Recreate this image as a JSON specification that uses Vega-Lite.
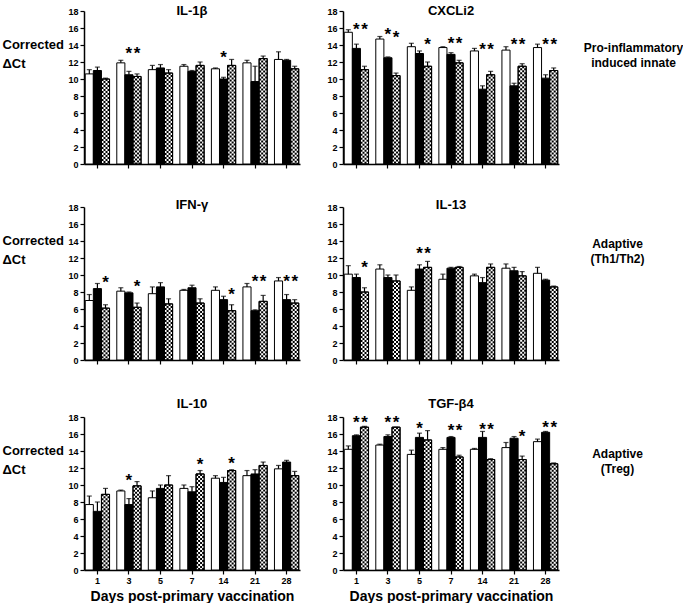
{
"$schema":"https://vega.github.io/schema/vega-lite/v6.json",
"padding":{"left":2,"top":5,"right":0,"bottom":0},
"background":"white",
"config":{"font":"Liberation Sans","view":{"stroke":null},
 "axis":{"grid":false,"domainColor":"black","domainWidth":1.5,"tickColor":"black","tickWidth":1.2,"tickSize":4,"labelColor":"black","labelFontWeight":"bold","labelFontSize":9,"labelPadding":2,"titleColor":"black"},
 "title":{"fontSize":13,"fontWeight":"bold","color":"black","baseline":"alphabetic"}},
"datasets":{
"bars":[
{"p":"IL-1β","d":1,"g":"g1","v":10.6,"h":11.1},{"p":"IL-1β","d":1,"g":"g2","v":11.0,"h":11.4},{"p":"IL-1β","d":1,"g":"g3","v":10.0,"h":10.1},
{"p":"IL-1β","d":3,"g":"g1","v":11.9,"h":12.2},{"p":"IL-1β","d":3,"g":"g2","v":10.5,"h":10.9},{"p":"IL-1β","d":3,"g":"g3","v":10.3,"h":10.6},
{"p":"IL-1β","d":5,"g":"g1","v":11.1,"h":11.6},{"p":"IL-1β","d":5,"g":"g2","v":11.3,"h":11.7},{"p":"IL-1β","d":5,"g":"g3","v":10.7,"h":11.1},
{"p":"IL-1β","d":7,"g":"g1","v":11.5,"h":11.7},{"p":"IL-1β","d":7,"g":"g2","v":10.9,"h":11.0},{"p":"IL-1β","d":7,"g":"g3","v":11.6,"h":12.0},
{"p":"IL-1β","d":14,"g":"g1","v":11.2,"h":11.3},{"p":"IL-1β","d":14,"g":"g2","v":10.0,"h":10.2},{"p":"IL-1β","d":14,"g":"g3","v":11.6,"h":12.3},
{"p":"IL-1β","d":21,"g":"g1","v":11.9,"h":12.2},{"p":"IL-1β","d":21,"g":"g2","v":9.7,"h":11.5},{"p":"IL-1β","d":21,"g":"g3","v":12.4,"h":12.7},
{"p":"IL-1β","d":28,"g":"g1","v":12.3,"h":13.2},{"p":"IL-1β","d":28,"g":"g2","v":12.2,"h":12.3},{"p":"IL-1β","d":28,"g":"g3","v":11.2,"h":11.5},
{"p":"CXCLi2","d":1,"g":"g1","v":15.5,"h":15.8},{"p":"CXCLi2","d":1,"g":"g2","v":13.6,"h":14.1},{"p":"CXCLi2","d":1,"g":"g3","v":11.1,"h":11.5},
{"p":"CXCLi2","d":3,"g":"g1","v":14.7,"h":15.0},{"p":"CXCLi2","d":3,"g":"g2","v":12.5,"h":12.6},{"p":"CXCLi2","d":3,"g":"g3","v":10.4,"h":10.7},
{"p":"CXCLi2","d":5,"g":"g1","v":13.8,"h":14.2},{"p":"CXCLi2","d":5,"g":"g2","v":13.0,"h":13.3},{"p":"CXCLi2","d":5,"g":"g3","v":11.5,"h":12.0},
{"p":"CXCLi2","d":7,"g":"g1","v":13.7,"h":13.8},{"p":"CXCLi2","d":7,"g":"g2","v":12.9,"h":13.1},{"p":"CXCLi2","d":7,"g":"g3","v":11.9,"h":12.2},
{"p":"CXCLi2","d":14,"g":"g1","v":13.3,"h":13.6},{"p":"CXCLi2","d":14,"g":"g2","v":8.8,"h":9.2},{"p":"CXCLi2","d":14,"g":"g3","v":10.5,"h":10.9},
{"p":"CXCLi2","d":21,"g":"g1","v":13.4,"h":13.8},{"p":"CXCLi2","d":21,"g":"g2","v":9.2,"h":9.5},{"p":"CXCLi2","d":21,"g":"g3","v":11.5,"h":11.8},
{"p":"CXCLi2","d":28,"g":"g1","v":13.7,"h":14.1},{"p":"CXCLi2","d":28,"g":"g2","v":10.1,"h":10.5},{"p":"CXCLi2","d":28,"g":"g3","v":11.0,"h":11.3},
{"p":"IFN-γ","d":1,"g":"g1","v":7.0,"h":7.7},{"p":"IFN-γ","d":1,"g":"g2","v":8.4,"h":9.0},{"p":"IFN-γ","d":1,"g":"g3","v":6.1,"h":6.5},
{"p":"IFN-γ","d":3,"g":"g1","v":8.1,"h":8.5},{"p":"IFN-γ","d":3,"g":"g2","v":7.9,"h":8.0},{"p":"IFN-γ","d":3,"g":"g3","v":6.2,"h":6.7},
{"p":"IFN-γ","d":5,"g":"g1","v":7.8,"h":8.6},{"p":"IFN-γ","d":5,"g":"g2","v":8.6,"h":9.1},{"p":"IFN-γ","d":5,"g":"g3","v":6.6,"h":7.2},
{"p":"IFN-γ","d":7,"g":"g1","v":8.2,"h":8.3},{"p":"IFN-γ","d":7,"g":"g2","v":8.5,"h":8.8},{"p":"IFN-γ","d":7,"g":"g3","v":6.7,"h":7.2},
{"p":"IFN-γ","d":14,"g":"g1","v":8.2,"h":8.6},{"p":"IFN-γ","d":14,"g":"g2","v":7.1,"h":7.5},{"p":"IFN-γ","d":14,"g":"g3","v":5.8,"h":6.5},
{"p":"IFN-γ","d":21,"g":"g1","v":8.6,"h":9.0},{"p":"IFN-γ","d":21,"g":"g2","v":5.8,"h":5.9},{"p":"IFN-γ","d":21,"g":"g3","v":6.9,"h":7.6},
{"p":"IFN-γ","d":28,"g":"g1","v":9.3,"h":9.7},{"p":"IFN-γ","d":28,"g":"g2","v":7.1,"h":7.7},{"p":"IFN-γ","d":28,"g":"g3","v":6.7,"h":7.1},
{"p":"IL-13","d":1,"g":"g1","v":10.1,"h":11.1},{"p":"IL-13","d":1,"g":"g2","v":9.7,"h":10.1},{"p":"IL-13","d":1,"g":"g3","v":8.0,"h":8.5},
{"p":"IL-13","d":3,"g":"g1","v":10.7,"h":11.2},{"p":"IL-13","d":3,"g":"g2","v":9.7,"h":10.0},{"p":"IL-13","d":3,"g":"g3","v":9.3,"h":10.0},
{"p":"IL-13","d":5,"g":"g1","v":8.2,"h":8.6},{"p":"IL-13","d":5,"g":"g2","v":10.7,"h":11.2},{"p":"IL-13","d":5,"g":"g3","v":10.9,"h":11.6},
{"p":"IL-13","d":7,"g":"g1","v":9.5,"h":10.1},{"p":"IL-13","d":7,"g":"g2","v":10.8,"h":10.9},{"p":"IL-13","d":7,"g":"g3","v":10.9,"h":11.0},
{"p":"IL-13","d":14,"g":"g1","v":9.9,"h":10.1},{"p":"IL-13","d":14,"g":"g2","v":9.1,"h":9.7},{"p":"IL-13","d":14,"g":"g3","v":10.9,"h":11.3},
{"p":"IL-13","d":21,"g":"g1","v":10.8,"h":11.3},{"p":"IL-13","d":21,"g":"g2","v":10.5,"h":10.9},{"p":"IL-13","d":21,"g":"g3","v":9.9,"h":10.4},
{"p":"IL-13","d":28,"g":"g1","v":10.2,"h":10.9},{"p":"IL-13","d":28,"g":"g2","v":9.4,"h":9.5},{"p":"IL-13","d":28,"g":"g3","v":8.6,"h":8.7},
{"p":"IL-10","d":1,"g":"g1","v":7.7,"h":8.7},{"p":"IL-10","d":1,"g":"g2","v":6.9,"h":8.0},{"p":"IL-10","d":1,"g":"g3","v":8.9,"h":9.6},
{"p":"IL-10","d":3,"g":"g1","v":9.3,"h":9.4},{"p":"IL-10","d":3,"g":"g2","v":7.7,"h":8.4},{"p":"IL-10","d":3,"g":"g3","v":9.9,"h":10.4},
{"p":"IL-10","d":5,"g":"g1","v":8.5,"h":9.3},{"p":"IL-10","d":5,"g":"g2","v":9.6,"h":10.0},{"p":"IL-10","d":5,"g":"g3","v":10.0,"h":11.1},
{"p":"IL-10","d":7,"g":"g1","v":9.6,"h":10.0},{"p":"IL-10","d":7,"g":"g2","v":9.2,"h":9.8},{"p":"IL-10","d":7,"g":"g3","v":11.3,"h":11.7},
{"p":"IL-10","d":14,"g":"g1","v":10.8,"h":11.1},{"p":"IL-10","d":14,"g":"g2","v":10.3,"h":10.9},{"p":"IL-10","d":14,"g":"g3","v":11.7,"h":11.8},
{"p":"IL-10","d":21,"g":"g1","v":11.1,"h":11.7},{"p":"IL-10","d":21,"g":"g2","v":11.3,"h":11.8},{"p":"IL-10","d":21,"g":"g3","v":12.3,"h":12.7},
{"p":"IL-10","d":28,"g":"g1","v":11.9,"h":12.3},{"p":"IL-10","d":28,"g":"g2","v":12.7,"h":12.9},{"p":"IL-10","d":28,"g":"g3","v":11.1,"h":11.6},
{"p":"TGF-β4","d":1,"g":"g1","v":14.2,"h":14.6},{"p":"TGF-β4","d":1,"g":"g2","v":15.8,"h":15.9},{"p":"TGF-β4","d":1,"g":"g3","v":16.8,"h":16.9},
{"p":"TGF-β4","d":3,"g":"g1","v":14.7,"h":14.8},{"p":"TGF-β4","d":3,"g":"g2","v":15.7,"h":15.9},{"p":"TGF-β4","d":3,"g":"g3","v":16.8,"h":16.8},
{"p":"TGF-β4","d":5,"g":"g1","v":13.6,"h":14.1},{"p":"TGF-β4","d":5,"g":"g2","v":15.6,"h":16.1},{"p":"TGF-β4","d":5,"g":"g3","v":15.3,"h":16.4},
{"p":"TGF-β4","d":7,"g":"g1","v":14.2,"h":14.4},{"p":"TGF-β4","d":7,"g":"g2","v":15.6,"h":15.7},{"p":"TGF-β4","d":7,"g":"g3","v":13.3,"h":13.5},
{"p":"TGF-β4","d":14,"g":"g1","v":14.2,"h":14.3},{"p":"TGF-β4","d":14,"g":"g2","v":15.6,"h":16.3},{"p":"TGF-β4","d":14,"g":"g3","v":13.0,"h":13.1},
{"p":"TGF-β4","d":21,"g":"g1","v":14.4,"h":15.0},{"p":"TGF-β4","d":21,"g":"g2","v":15.5,"h":15.7},{"p":"TGF-β4","d":21,"g":"g3","v":13.0,"h":13.4},
{"p":"TGF-β4","d":28,"g":"g1","v":15.1,"h":15.4},{"p":"TGF-β4","d":28,"g":"g2","v":16.2,"h":16.3},{"p":"TGF-β4","d":28,"g":"g3","v":12.5,"h":12.6}
],
"stars":[
{"p":"IL-1β","d":3,"g":"g2","y":13.4},{"p":"IL-1β","d":3,"g":"g3","y":13.4},{"p":"IL-1β","d":14,"g":"g2","y":12.9},
{"p":"CXCLi2","d":1,"g":"g2","y":16.2},{"p":"CXCLi2","d":1,"g":"g3","y":16.2},{"p":"CXCLi2","d":3,"g":"g2","y":15.6},{"p":"CXCLi2","d":3,"g":"g3","y":15.3},
{"p":"CXCLi2","d":5,"g":"g3","y":14.5},{"p":"CXCLi2","d":7,"g":"g2","y":14.6},{"p":"CXCLi2","d":7,"g":"g3","y":14.6},
{"p":"CXCLi2","d":14,"g":"g2","y":13.9},{"p":"CXCLi2","d":14,"g":"g3","y":13.9},{"p":"CXCLi2","d":21,"g":"g2","y":14.5},{"p":"CXCLi2","d":21,"g":"g3","y":14.5},
{"p":"CXCLi2","d":28,"g":"g2","y":14.5},{"p":"CXCLi2","d":28,"g":"g3","y":14.5},
{"p":"IFN-γ","d":1,"g":"g3","y":9.5},{"p":"IFN-γ","d":3,"g":"g3","y":9.1},{"p":"IFN-γ","d":14,"g":"g3","y":8.1},
{"p":"IFN-γ","d":21,"g":"g2","y":9.6},{"p":"IFN-γ","d":21,"g":"g3","y":9.6},{"p":"IFN-γ","d":28,"g":"g2","y":9.7},{"p":"IFN-γ","d":28,"g":"g3","y":9.7},
{"p":"IL-13","d":1,"g":"g3","y":11.3},{"p":"IL-13","d":5,"g":"g2","y":12.9},{"p":"IL-13","d":5,"g":"g3","y":12.9},
{"p":"IL-10","d":3,"g":"g2","y":11.0},{"p":"IL-10","d":7,"g":"g3","y":12.8},{"p":"IL-10","d":14,"g":"g3","y":13.0},
{"p":"TGF-β4","d":1,"g":"g2","y":17.8},{"p":"TGF-β4","d":1,"g":"g3","y":17.8},{"p":"TGF-β4","d":3,"g":"g2","y":17.8},{"p":"TGF-β4","d":3,"g":"g3","y":17.8},
{"p":"TGF-β4","d":5,"g":"g2","y":17.1},{"p":"TGF-β4","d":7,"g":"g2","y":16.8},{"p":"TGF-β4","d":7,"g":"g3","y":16.8},
{"p":"TGF-β4","d":14,"g":"g2","y":17.0},{"p":"TGF-β4","d":14,"g":"g3","y":17.0},{"p":"TGF-β4","d":21,"g":"g3","y":16.1},
{"p":"TGF-β4","d":28,"g":"g2","y":17.2},{"p":"TGF-β4","d":28,"g":"g3","y":17.2}
]},
"vconcat":[
{"hconcat":[
 {"width":216,"height":153,"title":{"text":"IL-1β","offset":-11},"resolve":{"axis":{"x":"independent","y":"independent"}},
  "layer":[
   {"data":{"name":"bars"},"transform":[{"filter":{"field":"p","equal":"IL-1β"}}],"mark":{"type":"bar","stroke":"black","strokeWidth":1},
    "encoding":{"x":{"field":"d","type":"ordinal","scale":{"paddingInner":0.23,"paddingOuter":0.04},"axis":{"labels":false,"title":null}},
     "xOffset":{"field":"g","type":"nominal","scale":{"domain":["g1","g2","g3"],"paddingInner":0,"paddingOuter":0}},
     "y":{"field":"v","type":"quantitative","scale":{"domain":[0,18],"nice":false},"axis":{"values":[0,2,4,6,8,10,12,14,16,18],"title":["Corrected","ΔCt"],"titleAngle":0,"titleAlign":"left","titleBaseline":"top","titleX":-82,"titleY":27,"titleFontSize":13,"titleFontWeight":"bold","titleLineHeight":19}},
     "fill":{"field":"g","type":"nominal","scale":{"domain":["g1","g2","g3"],"range":["#ffffff","#000000","#ffffff"]},"legend":null}}},
   {"data":{"name":"bars"},"transform":[{"filter":{"and":[{"field":"p","equal":"IL-1β"},{"field":"g","equal":"g3"}]}}],"mark":{"type":"rule","color":"black","strokeWidth":2,"strokeDash":[2,2],"strokeDashOffset":0,"xOffset":5.1},
    "encoding":{"x":{"field":"d","type":"ordinal","axis":null},"y":{"field":"v","type":"quantitative","axis":null},"y2":{"datum":0}}},
   {"data":{"name":"bars"},"transform":[{"filter":{"and":[{"field":"p","equal":"IL-1β"},{"field":"g","equal":"g3"}]}}],"mark":{"type":"rule","color":"black","strokeWidth":2,"strokeDash":[2,2],"strokeDashOffset":2,"xOffset":7.1},
    "encoding":{"x":{"field":"d","type":"ordinal","axis":null},"y":{"field":"v","type":"quantitative","axis":null},"y2":{"datum":0}}},
   {"data":{"name":"bars"},"transform":[{"filter":{"and":[{"field":"p","equal":"IL-1β"},{"field":"g","equal":"g3"}]}}],"mark":{"type":"rule","color":"black","strokeWidth":2,"strokeDash":[2,2],"strokeDashOffset":0,"xOffset":9.1},
    "encoding":{"x":{"field":"d","type":"ordinal","axis":null},"y":{"field":"v","type":"quantitative","axis":null},"y2":{"datum":0}}},
   {"data":{"name":"bars"},"transform":[{"filter":{"and":[{"field":"p","equal":"IL-1β"},{"field":"g","equal":"g3"}]}}],"mark":{"type":"rule","color":"black","strokeWidth":2,"strokeDash":[2,2],"strokeDashOffset":2,"xOffset":11.1},
    "encoding":{"x":{"field":"d","type":"ordinal","axis":null},"y":{"field":"v","type":"quantitative","axis":null},"y2":{"datum":0}}},
   {"data":{"name":"bars"},"transform":[{"filter":{"and":[{"field":"p","equal":"IL-1β"},{"field":"g","equal":"g3"}]}}],"mark":{"type":"bar","fillOpacity":0,"stroke":"black","strokeWidth":1},
    "encoding":{"x":{"field":"d","type":"ordinal","axis":null},"xOffset":{"field":"g","type":"nominal"},"y":{"field":"v","type":"quantitative","axis":null}}},
   {"data":{"name":"bars"},"transform":[{"filter":{"field":"p","equal":"IL-1β"}}],"mark":{"type":"rule","color":"black","strokeWidth":1.2},
    "encoding":{"x":{"field":"d","type":"ordinal","axis":null},"xOffset":{"field":"g","type":"nominal"},"y":{"field":"v","type":"quantitative","axis":null},"y2":{"field":"h"}}},
   {"data":{"name":"bars"},"transform":[{"filter":{"field":"p","equal":"IL-1β"}}],"mark":{"type":"tick","color":"black","size":5,"thickness":1.2,"orient":"horizontal"},
    "encoding":{"x":{"field":"d","type":"ordinal","axis":null},"xOffset":{"field":"g","type":"nominal"},"y":{"field":"h","type":"quantitative","axis":null}}},
   {"data":{"name":"stars"},"transform":[{"filter":{"field":"p","equal":"IL-1β"}}],"mark":{"type":"text","text":"*","fontSize":17,"fontWeight":"bold","baseline":"alphabetic","dy":9,"color":"black"},
    "encoding":{"x":{"field":"d","type":"ordinal","axis":null},"xOffset":{"field":"g","type":"nominal"},"y":{"field":"y","type":"quantitative","axis":null}}}
  ]},
 {"width":216,"height":153,"title":{"text":"CXCLi2","offset":-11},"resolve":{"axis":{"x":"independent","y":"independent"}},
  "layer":[
   {"data":{"name":"bars"},"transform":[{"filter":{"field":"p","equal":"CXCLi2"}}],"mark":{"type":"bar","stroke":"black","strokeWidth":1},
    "encoding":{"x":{"field":"d","type":"ordinal","scale":{"paddingInner":0.23,"paddingOuter":0.04},"axis":{"labels":false,"title":null}},
     "xOffset":{"field":"g","type":"nominal","scale":{"domain":["g1","g2","g3"],"paddingInner":0,"paddingOuter":0}},
     "y":{"field":"v","type":"quantitative","scale":{"domain":[0,18],"nice":false},"axis":{"values":[0,2,4,6,8,10,12,14,16,18],"title":null}},
     "fill":{"field":"g","type":"nominal","scale":{"domain":["g1","g2","g3"],"range":["#ffffff","#000000","#ffffff"]},"legend":null}}},
   {"data":{"name":"bars"},"transform":[{"filter":{"and":[{"field":"p","equal":"CXCLi2"},{"field":"g","equal":"g3"}]}}],"mark":{"type":"rule","color":"black","strokeWidth":2,"strokeDash":[2,2],"strokeDashOffset":0,"xOffset":5.1},
    "encoding":{"x":{"field":"d","type":"ordinal","axis":null},"y":{"field":"v","type":"quantitative","axis":null},"y2":{"datum":0}}},
   {"data":{"name":"bars"},"transform":[{"filter":{"and":[{"field":"p","equal":"CXCLi2"},{"field":"g","equal":"g3"}]}}],"mark":{"type":"rule","color":"black","strokeWidth":2,"strokeDash":[2,2],"strokeDashOffset":2,"xOffset":7.1},
    "encoding":{"x":{"field":"d","type":"ordinal","axis":null},"y":{"field":"v","type":"quantitative","axis":null},"y2":{"datum":0}}},
   {"data":{"name":"bars"},"transform":[{"filter":{"and":[{"field":"p","equal":"CXCLi2"},{"field":"g","equal":"g3"}]}}],"mark":{"type":"rule","color":"black","strokeWidth":2,"strokeDash":[2,2],"strokeDashOffset":0,"xOffset":9.1},
    "encoding":{"x":{"field":"d","type":"ordinal","axis":null},"y":{"field":"v","type":"quantitative","axis":null},"y2":{"datum":0}}},
   {"data":{"name":"bars"},"transform":[{"filter":{"and":[{"field":"p","equal":"CXCLi2"},{"field":"g","equal":"g3"}]}}],"mark":{"type":"rule","color":"black","strokeWidth":2,"strokeDash":[2,2],"strokeDashOffset":2,"xOffset":11.1},
    "encoding":{"x":{"field":"d","type":"ordinal","axis":null},"y":{"field":"v","type":"quantitative","axis":null},"y2":{"datum":0}}},
   {"data":{"name":"bars"},"transform":[{"filter":{"and":[{"field":"p","equal":"CXCLi2"},{"field":"g","equal":"g3"}]}}],"mark":{"type":"bar","fillOpacity":0,"stroke":"black","strokeWidth":1},
    "encoding":{"x":{"field":"d","type":"ordinal","axis":null},"xOffset":{"field":"g","type":"nominal"},"y":{"field":"v","type":"quantitative","axis":null}}},
   {"data":{"name":"bars"},"transform":[{"filter":{"field":"p","equal":"CXCLi2"}}],"mark":{"type":"rule","color":"black","strokeWidth":1.2},
    "encoding":{"x":{"field":"d","type":"ordinal","axis":null},"xOffset":{"field":"g","type":"nominal"},"y":{"field":"v","type":"quantitative","axis":{"orient":"right","labels":false,"ticks":false,"domain":false,"title":["Pro-inflammatory","induced innate"],"titleAngle":0,"titleAlign":"center","titleBaseline":"top","titleX":74,"titleY":31,"titleFontSize":12,"titleFontWeight":"bold","titleLineHeight":15}},"y2":{"field":"h"}}},
   {"data":{"name":"bars"},"transform":[{"filter":{"field":"p","equal":"CXCLi2"}}],"mark":{"type":"tick","color":"black","size":5,"thickness":1.2,"orient":"horizontal"},
    "encoding":{"x":{"field":"d","type":"ordinal","axis":null},"xOffset":{"field":"g","type":"nominal"},"y":{"field":"h","type":"quantitative","axis":null}}},
   {"data":{"name":"stars"},"transform":[{"filter":{"field":"p","equal":"CXCLi2"}}],"mark":{"type":"text","text":"*","fontSize":17,"fontWeight":"bold","baseline":"alphabetic","dy":9,"color":"black"},
    "encoding":{"x":{"field":"d","type":"ordinal","axis":null},"xOffset":{"field":"g","type":"nominal"},"y":{"field":"y","type":"quantitative","axis":null}}}
  ]}
],"spacing":26},
{"vconcat":[
{"hconcat":[
 {"width":216,"height":153,"title":{"text":"IFN-γ","offset":-9},"resolve":{"axis":{"x":"independent","y":"independent"}},
  "layer":[
   {"data":{"name":"bars"},"transform":[{"filter":{"field":"p","equal":"IFN-γ"}}],"mark":{"type":"bar","stroke":"black","strokeWidth":1},
    "encoding":{"x":{"field":"d","type":"ordinal","scale":{"paddingInner":0.23,"paddingOuter":0.04},"axis":{"labels":false,"title":null}},
     "xOffset":{"field":"g","type":"nominal","scale":{"domain":["g1","g2","g3"],"paddingInner":0,"paddingOuter":0}},
     "y":{"field":"v","type":"quantitative","scale":{"domain":[0,18],"nice":false},"axis":{"values":[0,2,4,6,8,10,12,14,16,18],"title":["Corrected","ΔCt"],"titleAngle":0,"titleAlign":"left","titleBaseline":"top","titleX":-82,"titleY":27,"titleFontSize":13,"titleFontWeight":"bold","titleLineHeight":19}},
     "fill":{"field":"g","type":"nominal","scale":{"domain":["g1","g2","g3"],"range":["#ffffff","#000000","#ffffff"]},"legend":null}}},
   {"data":{"name":"bars"},"transform":[{"filter":{"and":[{"field":"p","equal":"IFN-γ"},{"field":"g","equal":"g3"}]}}],"mark":{"type":"rule","color":"black","strokeWidth":2,"strokeDash":[2,2],"strokeDashOffset":0,"xOffset":5.1},
    "encoding":{"x":{"field":"d","type":"ordinal","axis":null},"y":{"field":"v","type":"quantitative","axis":null},"y2":{"datum":0}}},
   {"data":{"name":"bars"},"transform":[{"filter":{"and":[{"field":"p","equal":"IFN-γ"},{"field":"g","equal":"g3"}]}}],"mark":{"type":"rule","color":"black","strokeWidth":2,"strokeDash":[2,2],"strokeDashOffset":2,"xOffset":7.1},
    "encoding":{"x":{"field":"d","type":"ordinal","axis":null},"y":{"field":"v","type":"quantitative","axis":null},"y2":{"datum":0}}},
   {"data":{"name":"bars"},"transform":[{"filter":{"and":[{"field":"p","equal":"IFN-γ"},{"field":"g","equal":"g3"}]}}],"mark":{"type":"rule","color":"black","strokeWidth":2,"strokeDash":[2,2],"strokeDashOffset":0,"xOffset":9.1},
    "encoding":{"x":{"field":"d","type":"ordinal","axis":null},"y":{"field":"v","type":"quantitative","axis":null},"y2":{"datum":0}}},
   {"data":{"name":"bars"},"transform":[{"filter":{"and":[{"field":"p","equal":"IFN-γ"},{"field":"g","equal":"g3"}]}}],"mark":{"type":"rule","color":"black","strokeWidth":2,"strokeDash":[2,2],"strokeDashOffset":2,"xOffset":11.1},
    "encoding":{"x":{"field":"d","type":"ordinal","axis":null},"y":{"field":"v","type":"quantitative","axis":null},"y2":{"datum":0}}},
   {"data":{"name":"bars"},"transform":[{"filter":{"and":[{"field":"p","equal":"IFN-γ"},{"field":"g","equal":"g3"}]}}],"mark":{"type":"bar","fillOpacity":0,"stroke":"black","strokeWidth":1},
    "encoding":{"x":{"field":"d","type":"ordinal","axis":null},"xOffset":{"field":"g","type":"nominal"},"y":{"field":"v","type":"quantitative","axis":null}}},
   {"data":{"name":"bars"},"transform":[{"filter":{"field":"p","equal":"IFN-γ"}}],"mark":{"type":"rule","color":"black","strokeWidth":1.2},
    "encoding":{"x":{"field":"d","type":"ordinal","axis":null},"xOffset":{"field":"g","type":"nominal"},"y":{"field":"v","type":"quantitative","axis":null},"y2":{"field":"h"}}},
   {"data":{"name":"bars"},"transform":[{"filter":{"field":"p","equal":"IFN-γ"}}],"mark":{"type":"tick","color":"black","size":5,"thickness":1.2,"orient":"horizontal"},
    "encoding":{"x":{"field":"d","type":"ordinal","axis":null},"xOffset":{"field":"g","type":"nominal"},"y":{"field":"h","type":"quantitative","axis":null}}},
   {"data":{"name":"stars"},"transform":[{"filter":{"field":"p","equal":"IFN-γ"}}],"mark":{"type":"text","text":"*","fontSize":17,"fontWeight":"bold","baseline":"alphabetic","dy":9,"color":"black"},
    "encoding":{"x":{"field":"d","type":"ordinal","axis":null},"xOffset":{"field":"g","type":"nominal"},"y":{"field":"y","type":"quantitative","axis":null}}}
  ]},
 {"width":216,"height":153,"title":{"text":"IL-13","offset":-9},"resolve":{"axis":{"x":"independent","y":"independent"}},
  "layer":[
   {"data":{"name":"bars"},"transform":[{"filter":{"field":"p","equal":"IL-13"}}],"mark":{"type":"bar","stroke":"black","strokeWidth":1},
    "encoding":{"x":{"field":"d","type":"ordinal","scale":{"paddingInner":0.23,"paddingOuter":0.04},"axis":{"labels":false,"title":null}},
     "xOffset":{"field":"g","type":"nominal","scale":{"domain":["g1","g2","g3"],"paddingInner":0,"paddingOuter":0}},
     "y":{"field":"v","type":"quantitative","scale":{"domain":[0,18],"nice":false},"axis":{"values":[0,2,4,6,8,10,12,14,16,18],"title":null}},
     "fill":{"field":"g","type":"nominal","scale":{"domain":["g1","g2","g3"],"range":["#ffffff","#000000","#ffffff"]},"legend":null}}},
   {"data":{"name":"bars"},"transform":[{"filter":{"and":[{"field":"p","equal":"IL-13"},{"field":"g","equal":"g3"}]}}],"mark":{"type":"rule","color":"black","strokeWidth":2,"strokeDash":[2,2],"strokeDashOffset":0,"xOffset":5.1},
    "encoding":{"x":{"field":"d","type":"ordinal","axis":null},"y":{"field":"v","type":"quantitative","axis":null},"y2":{"datum":0}}},
   {"data":{"name":"bars"},"transform":[{"filter":{"and":[{"field":"p","equal":"IL-13"},{"field":"g","equal":"g3"}]}}],"mark":{"type":"rule","color":"black","strokeWidth":2,"strokeDash":[2,2],"strokeDashOffset":2,"xOffset":7.1},
    "encoding":{"x":{"field":"d","type":"ordinal","axis":null},"y":{"field":"v","type":"quantitative","axis":null},"y2":{"datum":0}}},
   {"data":{"name":"bars"},"transform":[{"filter":{"and":[{"field":"p","equal":"IL-13"},{"field":"g","equal":"g3"}]}}],"mark":{"type":"rule","color":"black","strokeWidth":2,"strokeDash":[2,2],"strokeDashOffset":0,"xOffset":9.1},
    "encoding":{"x":{"field":"d","type":"ordinal","axis":null},"y":{"field":"v","type":"quantitative","axis":null},"y2":{"datum":0}}},
   {"data":{"name":"bars"},"transform":[{"filter":{"and":[{"field":"p","equal":"IL-13"},{"field":"g","equal":"g3"}]}}],"mark":{"type":"rule","color":"black","strokeWidth":2,"strokeDash":[2,2],"strokeDashOffset":2,"xOffset":11.1},
    "encoding":{"x":{"field":"d","type":"ordinal","axis":null},"y":{"field":"v","type":"quantitative","axis":null},"y2":{"datum":0}}},
   {"data":{"name":"bars"},"transform":[{"filter":{"and":[{"field":"p","equal":"IL-13"},{"field":"g","equal":"g3"}]}}],"mark":{"type":"bar","fillOpacity":0,"stroke":"black","strokeWidth":1},
    "encoding":{"x":{"field":"d","type":"ordinal","axis":null},"xOffset":{"field":"g","type":"nominal"},"y":{"field":"v","type":"quantitative","axis":null}}},
   {"data":{"name":"bars"},"transform":[{"filter":{"field":"p","equal":"IL-13"}}],"mark":{"type":"rule","color":"black","strokeWidth":1.2},
    "encoding":{"x":{"field":"d","type":"ordinal","axis":null},"xOffset":{"field":"g","type":"nominal"},"y":{"field":"v","type":"quantitative","axis":{"orient":"right","labels":false,"ticks":false,"domain":false,"title":["Adaptive","(Th1/Th2)"],"titleAngle":0,"titleAlign":"center","titleBaseline":"top","titleX":58,"titleY":31,"titleFontSize":12,"titleFontWeight":"bold","titleLineHeight":15}},"y2":{"field":"h"}}},
   {"data":{"name":"bars"},"transform":[{"filter":{"field":"p","equal":"IL-13"}}],"mark":{"type":"tick","color":"black","size":5,"thickness":1.2,"orient":"horizontal"},
    "encoding":{"x":{"field":"d","type":"ordinal","axis":null},"xOffset":{"field":"g","type":"nominal"},"y":{"field":"h","type":"quantitative","axis":null}}},
   {"data":{"name":"stars"},"transform":[{"filter":{"field":"p","equal":"IL-13"}}],"mark":{"type":"text","text":"*","fontSize":17,"fontWeight":"bold","baseline":"alphabetic","dy":9,"color":"black"},
    "encoding":{"x":{"field":"d","type":"ordinal","axis":null},"xOffset":{"field":"g","type":"nominal"},"y":{"field":"y","type":"quantitative","axis":null}}}
  ]}
],"spacing":26},
{"hconcat":[
 {"width":216,"height":153,"title":{"text":"IL-10","offset":2},"resolve":{"axis":{"x":"independent","y":"independent"}},
  "layer":[
   {"data":{"name":"bars"},"transform":[{"filter":{"field":"p","equal":"IL-10"}}],"mark":{"type":"bar","stroke":"black","strokeWidth":1},
    "encoding":{"x":{"field":"d","type":"ordinal","scale":{"paddingInner":0.23,"paddingOuter":0.04},"axis":{"labelAngle":0,"title":"Days post-primary vaccination","titleFontSize":14,"titleFontWeight":"bold","titlePadding":4}},
     "xOffset":{"field":"g","type":"nominal","scale":{"domain":["g1","g2","g3"],"paddingInner":0,"paddingOuter":0}},
     "y":{"field":"v","type":"quantitative","scale":{"domain":[0,18],"nice":false},"axis":{"values":[0,2,4,6,8,10,12,14,16,18],"title":["Corrected","ΔCt"],"titleAngle":0,"titleAlign":"left","titleBaseline":"top","titleX":-82,"titleY":27,"titleFontSize":13,"titleFontWeight":"bold","titleLineHeight":19}},
     "fill":{"field":"g","type":"nominal","scale":{"domain":["g1","g2","g3"],"range":["#ffffff","#000000","#ffffff"]},"legend":null}}},
   {"data":{"name":"bars"},"transform":[{"filter":{"and":[{"field":"p","equal":"IL-10"},{"field":"g","equal":"g3"}]}}],"mark":{"type":"rule","color":"black","strokeWidth":2,"strokeDash":[2,2],"strokeDashOffset":0,"xOffset":5.1},
    "encoding":{"x":{"field":"d","type":"ordinal","axis":null},"y":{"field":"v","type":"quantitative","axis":null},"y2":{"datum":0}}},
   {"data":{"name":"bars"},"transform":[{"filter":{"and":[{"field":"p","equal":"IL-10"},{"field":"g","equal":"g3"}]}}],"mark":{"type":"rule","color":"black","strokeWidth":2,"strokeDash":[2,2],"strokeDashOffset":2,"xOffset":7.1},
    "encoding":{"x":{"field":"d","type":"ordinal","axis":null},"y":{"field":"v","type":"quantitative","axis":null},"y2":{"datum":0}}},
   {"data":{"name":"bars"},"transform":[{"filter":{"and":[{"field":"p","equal":"IL-10"},{"field":"g","equal":"g3"}]}}],"mark":{"type":"rule","color":"black","strokeWidth":2,"strokeDash":[2,2],"strokeDashOffset":0,"xOffset":9.1},
    "encoding":{"x":{"field":"d","type":"ordinal","axis":null},"y":{"field":"v","type":"quantitative","axis":null},"y2":{"datum":0}}},
   {"data":{"name":"bars"},"transform":[{"filter":{"and":[{"field":"p","equal":"IL-10"},{"field":"g","equal":"g3"}]}}],"mark":{"type":"rule","color":"black","strokeWidth":2,"strokeDash":[2,2],"strokeDashOffset":2,"xOffset":11.1},
    "encoding":{"x":{"field":"d","type":"ordinal","axis":null},"y":{"field":"v","type":"quantitative","axis":null},"y2":{"datum":0}}},
   {"data":{"name":"bars"},"transform":[{"filter":{"and":[{"field":"p","equal":"IL-10"},{"field":"g","equal":"g3"}]}}],"mark":{"type":"bar","fillOpacity":0,"stroke":"black","strokeWidth":1},
    "encoding":{"x":{"field":"d","type":"ordinal","axis":null},"xOffset":{"field":"g","type":"nominal"},"y":{"field":"v","type":"quantitative","axis":null}}},
   {"data":{"name":"bars"},"transform":[{"filter":{"field":"p","equal":"IL-10"}}],"mark":{"type":"rule","color":"black","strokeWidth":1.2},
    "encoding":{"x":{"field":"d","type":"ordinal","axis":null},"xOffset":{"field":"g","type":"nominal"},"y":{"field":"v","type":"quantitative","axis":null},"y2":{"field":"h"}}},
   {"data":{"name":"bars"},"transform":[{"filter":{"field":"p","equal":"IL-10"}}],"mark":{"type":"tick","color":"black","size":5,"thickness":1.2,"orient":"horizontal"},
    "encoding":{"x":{"field":"d","type":"ordinal","axis":null},"xOffset":{"field":"g","type":"nominal"},"y":{"field":"h","type":"quantitative","axis":null}}},
   {"data":{"name":"stars"},"transform":[{"filter":{"field":"p","equal":"IL-10"}}],"mark":{"type":"text","text":"*","fontSize":17,"fontWeight":"bold","baseline":"alphabetic","dy":9,"color":"black"},
    "encoding":{"x":{"field":"d","type":"ordinal","axis":null},"xOffset":{"field":"g","type":"nominal"},"y":{"field":"y","type":"quantitative","axis":null}}}
  ]},
 {"width":216,"height":153,"title":{"text":"TGF-β4","offset":2},"resolve":{"axis":{"x":"independent","y":"independent"}},
  "layer":[
   {"data":{"name":"bars"},"transform":[{"filter":{"field":"p","equal":"TGF-β4"}}],"mark":{"type":"bar","stroke":"black","strokeWidth":1},
    "encoding":{"x":{"field":"d","type":"ordinal","scale":{"paddingInner":0.23,"paddingOuter":0.04},"axis":{"labelAngle":0,"title":"Days post-primary vaccination","titleFontSize":14,"titleFontWeight":"bold","titlePadding":4}},
     "xOffset":{"field":"g","type":"nominal","scale":{"domain":["g1","g2","g3"],"paddingInner":0,"paddingOuter":0}},
     "y":{"field":"v","type":"quantitative","scale":{"domain":[0,18],"nice":false},"axis":{"values":[0,2,4,6,8,10,12,14,16,18],"title":null}},
     "fill":{"field":"g","type":"nominal","scale":{"domain":["g1","g2","g3"],"range":["#ffffff","#000000","#ffffff"]},"legend":null}}},
   {"data":{"name":"bars"},"transform":[{"filter":{"and":[{"field":"p","equal":"TGF-β4"},{"field":"g","equal":"g3"}]}}],"mark":{"type":"rule","color":"black","strokeWidth":2,"strokeDash":[2,2],"strokeDashOffset":0,"xOffset":5.1},
    "encoding":{"x":{"field":"d","type":"ordinal","axis":null},"y":{"field":"v","type":"quantitative","axis":null},"y2":{"datum":0}}},
   {"data":{"name":"bars"},"transform":[{"filter":{"and":[{"field":"p","equal":"TGF-β4"},{"field":"g","equal":"g3"}]}}],"mark":{"type":"rule","color":"black","strokeWidth":2,"strokeDash":[2,2],"strokeDashOffset":2,"xOffset":7.1},
    "encoding":{"x":{"field":"d","type":"ordinal","axis":null},"y":{"field":"v","type":"quantitative","axis":null},"y2":{"datum":0}}},
   {"data":{"name":"bars"},"transform":[{"filter":{"and":[{"field":"p","equal":"TGF-β4"},{"field":"g","equal":"g3"}]}}],"mark":{"type":"rule","color":"black","strokeWidth":2,"strokeDash":[2,2],"strokeDashOffset":0,"xOffset":9.1},
    "encoding":{"x":{"field":"d","type":"ordinal","axis":null},"y":{"field":"v","type":"quantitative","axis":null},"y2":{"datum":0}}},
   {"data":{"name":"bars"},"transform":[{"filter":{"and":[{"field":"p","equal":"TGF-β4"},{"field":"g","equal":"g3"}]}}],"mark":{"type":"rule","color":"black","strokeWidth":2,"strokeDash":[2,2],"strokeDashOffset":2,"xOffset":11.1},
    "encoding":{"x":{"field":"d","type":"ordinal","axis":null},"y":{"field":"v","type":"quantitative","axis":null},"y2":{"datum":0}}},
   {"data":{"name":"bars"},"transform":[{"filter":{"and":[{"field":"p","equal":"TGF-β4"},{"field":"g","equal":"g3"}]}}],"mark":{"type":"bar","fillOpacity":0,"stroke":"black","strokeWidth":1},
    "encoding":{"x":{"field":"d","type":"ordinal","axis":null},"xOffset":{"field":"g","type":"nominal"},"y":{"field":"v","type":"quantitative","axis":null}}},
   {"data":{"name":"bars"},"transform":[{"filter":{"field":"p","equal":"TGF-β4"}}],"mark":{"type":"rule","color":"black","strokeWidth":1.2},
    "encoding":{"x":{"field":"d","type":"ordinal","axis":null},"xOffset":{"field":"g","type":"nominal"},"y":{"field":"v","type":"quantitative","axis":{"orient":"right","labels":false,"ticks":false,"domain":false,"title":["Adaptive","(Treg)"],"titleAngle":0,"titleAlign":"center","titleBaseline":"top","titleX":58,"titleY":31,"titleFontSize":12,"titleFontWeight":"bold","titleLineHeight":15}},"y2":{"field":"h"}}},
   {"data":{"name":"bars"},"transform":[{"filter":{"field":"p","equal":"TGF-β4"}}],"mark":{"type":"tick","color":"black","size":5,"thickness":1.2,"orient":"horizontal"},
    "encoding":{"x":{"field":"d","type":"ordinal","axis":null},"xOffset":{"field":"g","type":"nominal"},"y":{"field":"h","type":"quantitative","axis":null}}},
   {"data":{"name":"stars"},"transform":[{"filter":{"field":"p","equal":"TGF-β4"}}],"mark":{"type":"text","text":"*","fontSize":17,"fontWeight":"bold","baseline":"alphabetic","dy":9,"color":"black"},
    "encoding":{"x":{"field":"d","type":"ordinal","axis":null},"xOffset":{"field":"g","type":"nominal"},"y":{"field":"y","type":"quantitative","axis":null}}}
  ]}
],"spacing":26}
],"spacing":33}
],
"spacing":30
}
